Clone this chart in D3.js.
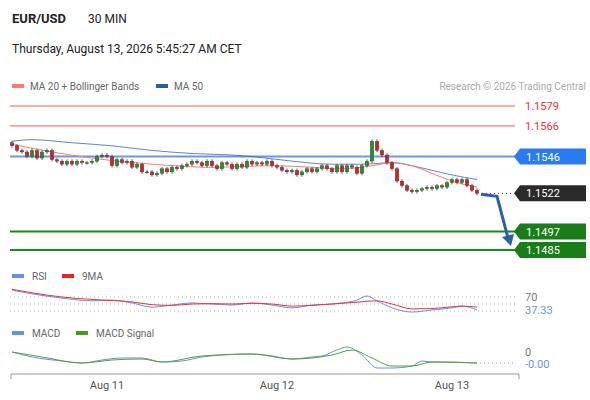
<!DOCTYPE html><html><head><meta charset="utf-8">
<script src="https://cdn.jsdelivr.net/npm/d3@7"></script>
<style>body{margin:0;background:#fff}svg{font-family:Roboto,"Liberation Sans",Arial,sans-serif}</style></head><body>
<svg id="c" width="590" height="400"></svg>
<script>
const closes=[1.1553,1.1550,1.1549,1.1546,1.1550,1.1545,1.1549,1.1550,1.1544,1.1543,1.1541,1.1543,1.1541,1.1543,1.1542,1.1542,1.1543,1.1546,1.1547,1.1546,
1.1540,1.1544,1.1542,1.1543,1.1539,1.1541,1.1536,1.1536,1.1534,1.1535,1.1538,1.1536,1.1539,1.1538,1.1540,1.1541,1.1543,1.1542,1.1540,1.1543,
1.1540,1.1538,1.1542,1.1541,1.1538,1.1541,1.1539,1.1543,1.1541,1.1542,1.1541,1.1543,1.1540,1.1539,1.1537,1.1536,1.1537,1.1534,1.1536,1.1538,
1.1536,1.1538,1.1540,1.1538,1.1536,1.1540,1.1536,1.1540,1.1539,1.1535,1.1540,1.1543,1.1556,1.1550,1.1547,1.1542,1.1538,1.1530,1.1527,1.1524,
1.1523,1.1524,1.1525,1.1526,1.1525,1.1527,1.1526,1.1529,1.1531,1.1529,1.1531,1.1527,1.1524,1.1522];
const ma50Idx=[0,4,12,20,28,36,44,48,56,64,70,76,80,84,88,93];
const ma50=[1.1556,1.1557,1.1555,1.1553,1.1550,1.1548,1.1547,1.1546,1.1543,1.1541,1.1541,1.1542,1.1540,1.1537,1.1534,1.1531];
const ma20Idx=[0,8,16,28,40,52,60,66,72,76,80,84,88,93];
const ma20=[1.1554,1.1549,1.1545,1.1541,1.1539,1.1540,1.1539,1.1538,1.1540,1.1542,1.1540,1.1535,1.1530,1.1526];
const levels=[{v:1.1579,t:"red"},{v:1.1566,t:"red"},{v:1.1546,t:"blue"},{v:1.1497,t:"green"},{v:1.1485,t:"green"}];
const lastPrice=1.1522;
const rsiIdx=[0,4,10,16,20,24,28,32,36,40,44,48,52,56,60,64,66,69,71,73,76,80,84,88,90,93];
const rsi=[90,79,67,59,61,53,41,47,53,50,47,53,47,39,47,50,53,61,73,59,39,27,33,39,44,33];
const rsiMA=[92,82,70,63,60,56,48,46,50,51,50,52,50,44,46,50,52,55,58,59,50,36,37,42,44,41];
const macdIdx=[0,4,10,14,18,22,26,30,34,38,42,48,52,56,60,62,65,67,70,73,76,80,82,84,86,93];
const macd=[11,6,2,0,3,5,5,1,2,6,8,9,7,4,6,7,13,16,8,-5,-5,-3,2,1,1,0];
const sigIdx=[0,6,14,20,26,30,38,48,56,64,68,72,76,80,84,93];
const signal=[11,6,0,3,4,1,7,9,4,8,13,5,-3,-3,1,0];
const xTicks=[{i:19,t:"Aug 11"},{i:53,t:"Aug 12"},{i:88,t:"Aug 13"}];

const svg=d3.select("#c");
const x=d3.scaleLinear().domain([0,93]).range([12,477]);
const y=d3.scaleLinear().domain([1.1485,1.1579]).range([250,106]);
svg.append("text").attr("x",12).attr("y",23).attr("font-size",13).attr("font-weight","bold").attr("fill","#222").text("EUR/USD");
svg.append("text").attr("x",88).attr("y",23).attr("font-size",12).attr("fill","#222").text("30 MIN");
svg.append("text").attr("x",12).attr("y",53).attr("font-size",12).attr("fill","#222").text("Thursday, August 13, 2026 5:45:27 AM CET");
svg.append("rect").attr("x",12).attr("y",84).attr("width",12).attr("height",4).attr("fill","#f77");
svg.append("text").attr("x",30).attr("y",90).attr("font-size",10).attr("fill","#666").text("MA 20 + Bollinger Bands");
svg.append("rect").attr("x",156).attr("y",84).attr("width",12).attr("height",4).attr("fill","#2c5ea8");
svg.append("text").attr("x",174).attr("y",90).attr("font-size",10).attr("fill","#666").text("MA 50");
svg.append("text").attr("x",586).attr("y",90).attr("font-size",10).attr("fill","#aaa").attr("text-anchor","end").text("Research © 2026 Trading Central");
const col={red:"#f25c5c",blue:"#6a97ee",green:"#1a8a1a"};
const box={blue:"#2b7bf0",green:"#197d19"};
levels.forEach(l=>{
  const yy=y(l.v);
  svg.append("line").attr("x1",10).attr("x2",515).attr("y1",yy).attr("y2",yy).attr("stroke",col[l.t]).attr("stroke-width",l.t==="red"?1:2);
  if(l.t==="red"){
    svg.append("text").attr("x",525).attr("y",yy+4).attr("font-size",11).attr("fill","#e33").text(l.v.toFixed(4));
  } else {
    svg.append("path").attr("d",`M514,${yy} L520,${yy-8} L586,${yy-8} L586,${yy+8} L520,${yy+8}Z`).attr("fill",box[l.t]);
    svg.append("text").attr("x",526).attr("y",yy+4).attr("font-size",11).attr("fill","#fff").text(l.v.toFixed(4));
  }
});
const line=d3.line().curve(d3.curveMonotoneX);
svg.append("path").attr("d",line(ma50.map((v,k)=>[x(ma50Idx[k]),y(v)]))).attr("fill","none").attr("stroke","#3d66b5").attr("stroke-width",1).attr("opacity",0.8);
svg.append("path").attr("d",line(ma20.map((v,k)=>[x(ma20Idx[k]),y(v)]))).attr("fill","none").attr("stroke","#f77").attr("stroke-width",1);
const wick=0.00012;
closes.forEach((c,i)=>{
  const o=i?closes[i-1]:c+0.0002;
  const up=c>=o;
  const cx=x(i);
  svg.append("line").attr("x1",cx).attr("x2",cx).attr("y1",y(Math.max(o,c)+wick)).attr("y2",y(Math.min(o,c)-wick)).attr("stroke","#333").attr("stroke-width",0.8);
  svg.append("rect").attr("x",cx-1.8).attr("width",3.6).attr("y",y(Math.max(o,c))).attr("height",Math.max(1,Math.abs(y(o)-y(c)))).attr("fill",up?"#2e8a2e":"#c62828").attr("stroke","#333").attr("stroke-width",0.3);
});
const ly=y(lastPrice);
svg.append("line").attr("x1",482).attr("x2",514).attr("y1",ly).attr("y2",ly).attr("stroke","#333").attr("stroke-dasharray","1,3");
svg.append("path").attr("d",`M514,${ly} L520,${ly-8} L586,${ly-8} L586,${ly+8} L520,${ly+8}Z`).attr("fill","#2a2a2a");
svg.append("text").attr("x",526).attr("y",ly+4).attr("font-size",11).attr("fill","#fff").text(lastPrice.toFixed(4));
svg.append("path").attr("d",`M481,${ly+1} L497,${ly+3} L508,238`).attr("fill","none").attr("stroke","#2d5fa8").attr("stroke-width",3);
svg.append("path").attr("d","M502,237 L514,234 L511,246Z").attr("fill","#2d5fa8");
svg.append("rect").attr("x",12).attr("y",274).attr("width",12).attr("height",4).attr("fill","#6a8fe8");
svg.append("text").attr("x",32).attr("y",280).attr("font-size",10).attr("fill","#666").text("RSI");
svg.append("rect").attr("x",62).attr("y",274).attr("width",12).attr("height",4).attr("fill","#e22");
svg.append("text").attr("x",82).attr("y",280).attr("font-size",10).attr("fill","#666").text("9MA");
const yr=d3.scaleLinear().domain([30,70]).range([311,297]);
[70,50,30].forEach(v=>svg.append("line").attr("x1",10).attr("x2",515).attr("y1",yr(v)).attr("y2",yr(v)).attr("stroke","#bbb").attr("stroke-dasharray","1,3"));
svg.append("path").attr("d",line(rsi.map((v,k)=>[x(rsiIdx[k]),yr(v)]))).attr("fill","none").attr("stroke","#6a8fe8").attr("stroke-width",1);
svg.append("path").attr("d",line(rsiMA.map((v,k)=>[x(rsiIdx[k]),yr(v)]))).attr("fill","none").attr("stroke","#e33").attr("stroke-width",1);
svg.append("text").attr("x",525).attr("y",301).attr("font-size",11).attr("fill","#777").text("70");
svg.append("text").attr("x",525).attr("y",314).attr("font-size",11).attr("fill","#6a8fe8").text("37.33");
svg.append("rect").attr("x",12).attr("y",331).attr("width",12).attr("height",4).attr("fill","#6a8fe8");
svg.append("text").attr("x",32).attr("y",337).attr("font-size",10).attr("fill","#666").text("MACD");
svg.append("rect").attr("x",76).attr("y",331).attr("width",12).attr("height",4).attr("fill","#4a9a1a");
svg.append("text").attr("x",96).attr("y",337).attr("font-size",10).attr("fill","#666").text("MACD Signal");
const ym=d3.scaleLinear().domain([0,10]).range([363,353]);
svg.append("line").attr("x1",480).attr("x2",515).attr("y1",ym(0)).attr("y2",ym(0)).attr("stroke","#999").attr("stroke-dasharray","1,3");
svg.append("path").attr("d",line(macd.map((v,k)=>[x(macdIdx[k]),ym(v)]))).attr("fill","none").attr("stroke","#6a8fe8").attr("stroke-width",1);
svg.append("path").attr("d",line(signal.map((v,k)=>[x(sigIdx[k]),ym(v)]))).attr("fill","none").attr("stroke","#5aa02a").attr("stroke-width",1);
svg.append("text").attr("x",525).attr("y",356).attr("font-size",11).attr("fill","#777").text("0");
svg.append("text").attr("x",525).attr("y",368).attr("font-size",11).attr("fill","#6a8fe8").text("-0.00");
const ax=svg.append("g").attr("transform","translate(0,374)");
ax.append("path").attr("d","M11,5 V0 H519 V5").attr("fill","none").attr("stroke","#999");
xTicks.forEach(t=>ax.append("text").attr("x",x(t.i)).attr("y",15).attr("font-size",11).attr("fill","#555").attr("text-anchor","middle").text(t.t));
</script></body></html>
